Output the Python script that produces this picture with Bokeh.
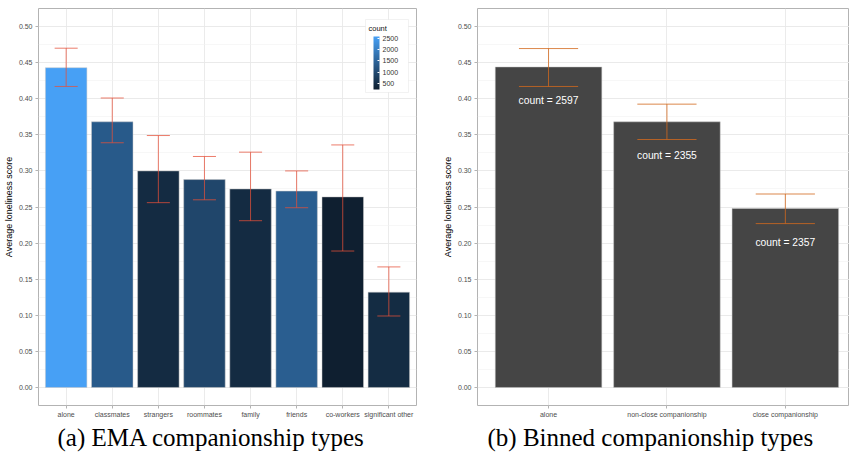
from bokeh.plotting import figure
from bokeh.models import (Range1d, FixedTicker, SingleIntervalTicker, ColumnDataSource,
                          LinearColorMapper, ColorBar, Title, PrintfTickFormatter,
                          BoxAnnotation, Label)
from bokeh.layouts import row
from bokeh.transform import transform
from bokeh.embed import file_html
from bokeh.resources import INLINE
from bokeh.core.properties import value

# ---------------- data ----------------
ema_types = ["alone", "classmates", "strangers", "roommates", "family",
             "friends", "co-workers", "significant other"]
ema_score = [0.443, 0.368, 0.300, 0.288, 0.275, 0.272, 0.264, 0.132]
ema_lower = [0.417, 0.339, 0.256, 0.260, 0.231, 0.249, 0.189, 0.099]
ema_upper = [0.470, 0.401, 0.349, 0.320, 0.326, 0.300, 0.336, 0.167]
ema_count = [2597, 1306, 441, 938, 441, 1380, 220, 458]
cbar_ticks = [500, 1000, 1500, 2000, 2500]

bin_types = ["alone", "non-close companionship", "close companionship"]
bin_score = [0.444, 0.368, 0.248]
bin_lower = [0.417, 0.3435, 0.227]
bin_upper = [0.4695, 0.3925, 0.268]
bin_count = [2597, 2355, 2357]

FONT = "Liberation Sans"
SERIF = "Liberation Serif"
Y0, Y1 = -0.025, 0.525
FRAME_H = 397


def gradient(c0, c1, n=256):
    a = [int(c0[i:i + 2], 16) for i in (1, 3, 5)]
    b = [int(c1[i:i + 2], 16) for i in (1, 3, 5)]
    out = []
    for k in range(n):
        t = k / (n - 1)
        out.append("#%02x%02x%02x" % tuple(round(a[j] + (b[j] - a[j]) * t) for j in range(3)))
    return out


def style(p, labels):
    p.outline_line_color = "#b3b3b3"
    p.outline_line_width = 1
    p.background_fill_color = "white"
    p.border_fill_color = "white"
    for ax in (p.xaxis[0], p.yaxis[0]):
        ax.axis_line_color = None
        ax.major_tick_line_color = "#b3b3b3"
        ax.major_tick_out = 3
        ax.major_tick_in = 0
        ax.minor_tick_line_color = None
        ax.major_label_text_font = FONT
        ax.major_label_text_font_size = "7px"
        ax.major_label_text_color = "#4d4d4d"
        ax.major_label_standoff = 2
    p.xaxis.ticker = FixedTicker(ticks=list(range(1, len(labels) + 1)))
    p.xaxis.major_label_overrides = {i + 1: lab for i, lab in enumerate(labels)}
    p.yaxis.ticker = SingleIntervalTicker(interval=0.05, num_minor_ticks=2)
    p.yaxis.formatter = PrintfTickFormatter(format="%.2f")
    p.yaxis.axis_label = "Average loneliness score"
    p.yaxis.axis_label_text_font = FONT
    p.yaxis.axis_label_text_font_size = "9px"
    p.yaxis.axis_label_text_font_style = "normal"
    p.yaxis.axis_label_text_color = "black"
    p.yaxis.axis_label_standoff = 2
    p.xgrid.grid_line_color = "#e6e6e6"
    p.xgrid.grid_line_width = 0.8
    p.ygrid.grid_line_color = "#e6e6e6"
    p.ygrid.grid_line_width = 0.8
    p.ygrid.minor_grid_line_color = "#f1f1f1"
    p.ygrid.minor_grid_line_width = 0.6


# ---------------- panel (a) ----------------
X0A, X1A, FRAME_WA = 0.4, 8.6, 378
pos_a = list(range(1, len(ema_types) + 1))
src_a = ColumnDataSource(dict(
    x=pos_a, top=ema_score, lo=ema_lower, hi=ema_upper, count=ema_count,
    x0=[x - 0.25 for x in pos_a], x1=[x + 0.25 for x in pos_a]))

p1 = figure(width=439, height=455, x_range=Range1d(X0A, X1A), y_range=Range1d(Y0, Y1),
            output_backend="svg", toolbar_location=None,
            min_border_left=38, min_border_right=23, min_border_top=8, min_border_bottom=50)
style(p1, ema_types)

mapper = LinearColorMapper(palette=gradient("#0f1f30", "#47a0f5"),
                           low=min(ema_count), high=max(ema_count))
p1.vbar(x="x", top="top", width=0.9, source=src_a,
        fill_color=transform("count", mapper), line_color="#c8c8c8", line_width=0.5)
err_c = "#e6503a"
p1.segment(x0="x", x1="x", y0="lo", y1="hi", source=src_a, line_color=err_c, line_alpha=0.75, line_width=1)
p1.segment(x0="x0", x1="x1", y0="hi", y1="hi", source=src_a, line_color=err_c, line_alpha=0.75, line_width=1)
p1.segment(x0="x0", x1="x1", y0="lo", y1="lo", source=src_a, line_color=err_c, line_alpha=0.75, line_width=1)


# legend box (positioned in frame pixels, converted to the plot's data space)
def fx(px):
    return X0A + px * (X1A - X0A) / FRAME_WA


def fy(px_from_bottom):
    return Y0 + px_from_bottom * (Y1 - Y0) / FRAME_H


p1.add_layout(BoxAnnotation(left=fx(327), right=fx(370), bottom=fy(313), top=fy(386),
                            fill_color="white", fill_alpha=1.0,
                            line_color="#d4d4d4", line_width=1))
p1.add_layout(Label(x=fx(330), y=fy(377), text="count", text_font=FONT,
                    text_font_size="7.5px", text_font_style="normal",
                    text_color="#111111", text_baseline="middle", text_align="left"))
cb = ColorBar(color_mapper=mapper, ticker=FixedTicker(ticks=cbar_ticks),
              width=6, height=53, title=None,
              major_label_text_font=FONT, major_label_text_font_size="7px",
              major_label_text_color="#333333", label_standoff=3,
              padding=0, border_line_color=None, background_fill_color=None,
              major_tick_line_color="white", major_tick_in=2, major_tick_out=0,
              bar_line_color=None, location=(335, 316))
p1.add_layout(cb, "center")

p1.add_layout(Title(text="(a) EMA companionship types", align="left", offset=19,
                    text_font=SERIF, text_font_size="25px", text_font_style="normal",
                    text_color="black", standoff=3), "below")

# ---------------- panel (b) ----------------
X0B, X1B = 0.4, 3.542
pos_b = list(range(1, len(bin_types) + 1))
src_b = ColumnDataSource(dict(
    x=pos_b, top=bin_score, lo=bin_lower, hi=bin_upper,
    label=["count = %d" % c for c in bin_count],
    x0=[x - 0.25 for x in pos_b], x1=[x + 0.25 for x in pos_b]))

p2 = figure(width=410, height=455, x_range=Range1d(X0B, X1B), y_range=Range1d(Y0, Y1),
            output_backend="svg", toolbar_location=None,
            min_border_left=38, min_border_right=0, min_border_top=8, min_border_bottom=50)
style(p2, bin_types)
p2.vbar(x="x", top="top", width=0.9, source=src_b, fill_color="#454545",
        line_color="#c8c8c8", line_width=0.5)
err_b = "#d2691e"
p2.segment(x0="x", x1="x", y0="lo", y1="hi", source=src_b, line_color=err_b, line_alpha=0.8, line_width=1)
p2.segment(x0="x0", x1="x1", y0="hi", y1="hi", source=src_b, line_color=err_b, line_alpha=0.8, line_width=1)
p2.segment(x0="x0", x1="x1", y0="lo", y1="lo", source=src_b, line_color=err_b, line_alpha=0.8, line_width=1)
p2.text(x="x", y="top", text="label", source=src_b, y_offset=34, text_align="center",
        text_baseline="middle", text_color="white", text_font_size="10.3px",
        text_font=value(FONT))

p2.add_layout(Title(text="(b) Binned companionship types", align="left", offset=10,
                    text_font=SERIF, text_font_size="25px", text_font_style="normal",
                    text_color="black", standoff=3), "below")

layout = row(p1, p2)
open("out.html", "w").write(file_html(layout, INLINE))
